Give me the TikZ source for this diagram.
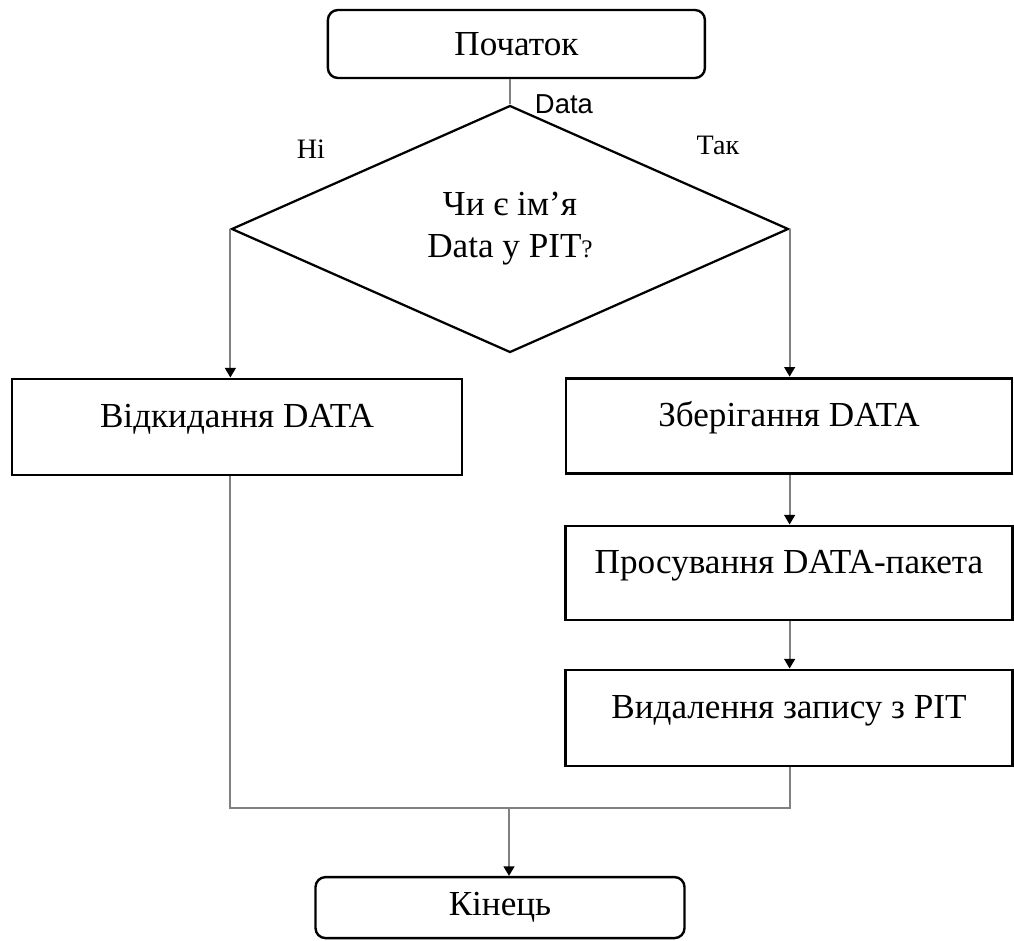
\documentclass[tikz,border=0pt]{standalone}
\usepackage{fontspec}
\setmainfont{Liberation Serif}
\newfontfamily\arialfont{Liberation Sans}
\usepackage{tikz}
\usetikzlibrary{arrows.meta,
                shapes.geometric}

\begin{document}
\begin{tikzpicture}[
  every node/.style={font=\fontsize{25}{30}\selectfont},
  box/.style={draw, line width=2.1pt, text height=0.75em, text depth=0.65em},
  term/.style={draw, line width=1.7pt, rounded corners=0.25cm},
  line/.style={draw=gray, line width=1.3pt},
  conn/.style={line, -{Triangle[width=0.27cm,length=0.24cm,color=black]}},
  lbl/.style={font=\fontsize{20}{24}\selectfont}
]
\useasboundingbox (0,0) rectangle (25.35,-23.5);

\node[term, minimum width=9.425cm, minimum height=1.7cm] (start) at (12.91,-1.1) {Початок};
\node[draw, diamond, line width=1.6pt, minimum width=13.925cm, minimum height=6.175cm,
      inner sep=0pt, align=center] (dec) at (12.75,-5.725)
      {Чи є ім’я\\Data у PIT{\fontsize{18}{22}\selectfont ?}};

\node[box, minimum width=11.25cm, minimum height=2.4cm] (drop) at (5.925,-10.675) {Відкидання DATA};
\node[box, minimum width=11.15cm, minimum height=2.375cm] (save) at (19.725,-10.64) {Зберігання DATA};
\node[box, minimum width=11.175cm, minimum height=2.35cm] (fwd) at (19.725,-14.325) {Просування DATA-пакета};
\node[box, minimum width=11.175cm, minimum height=2.4cm] (del) at (19.725,-17.95) {Видалення запису з PIT};

\node[term, minimum width=9.225cm, minimum height=1.525cm] (stop) at (12.5,-22.69) {Кінець};

% labels
\node[lbl, font=\arialfont\fontsize{19.5}{23}\selectfont, anchor=west] (data) at (13.25,-2.6) {Data};
\node[lbl] (no) at (7.775,-3.725) {Ні};
\node[lbl] (yes) at (17.95,-3.625) {Так};

\coordinate (merge) at (12.725,-20.2);

\draw[line] (start.south -| dec.north) -- (dec.north);
\draw[conn] (dec.west) -- (dec.west |- drop.north);
\draw[conn] (dec.east) -- (dec.east |- save.north);
\foreach \a/\b in {save/fwd, fwd/del}
  \draw[conn] (\a.south -| dec.east) -- (dec.east |- \b.north);

\draw[line] (dec.west |- drop.south) |- (merge) -| (dec.east |- del.south);
\draw[conn] (merge) -- (merge |- stop.north);
\end{tikzpicture}
\end{document}
